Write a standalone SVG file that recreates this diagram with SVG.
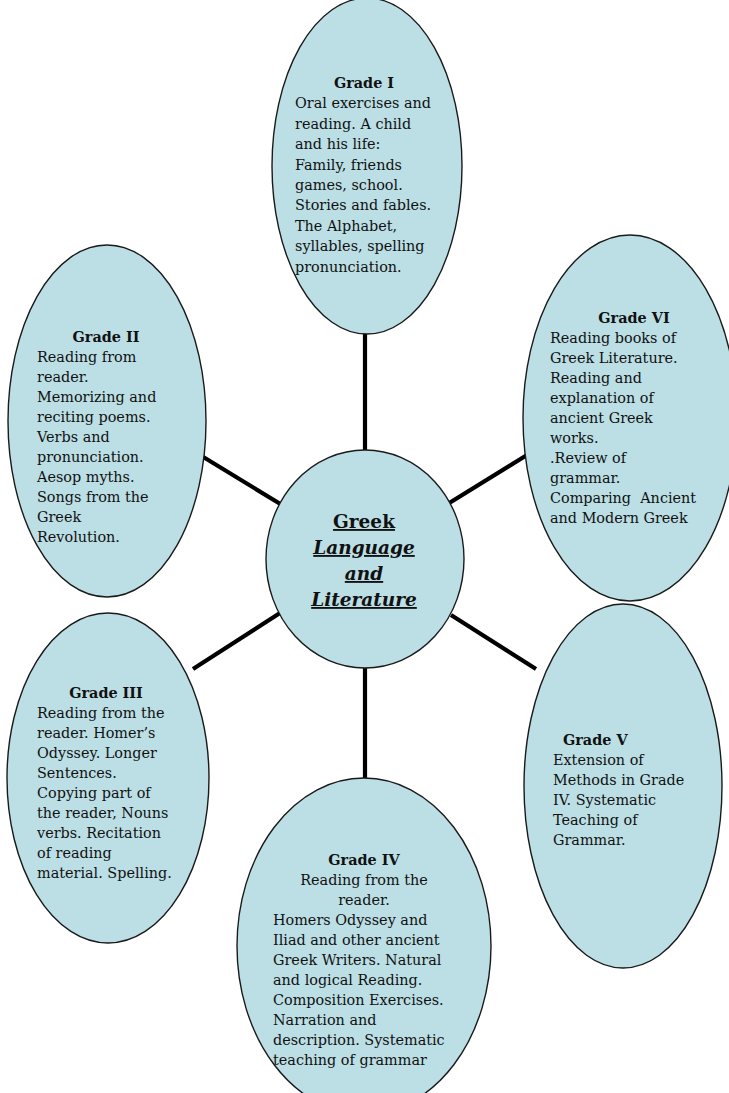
<svg xmlns="http://www.w3.org/2000/svg" width="729" height="1093" viewBox="0 0 729 1093">
<style>
.bg{fill:#ffffff}
.node{fill:#bcdfe5;stroke:#1a1a1a;stroke-width:1.4}
.conn{stroke:#000;stroke-width:4.2;stroke-linecap:butt;fill:none}
.t{font-family:"DejaVu Serif","Liberation Serif",serif;font-size:14.4px;fill:#111}
.b{font-weight:bold}
.c{text-anchor:middle}
.hub{font-family:"DejaVu Serif","Liberation Serif",serif;font-size:18.5px;font-weight:bold;fill:#111;text-anchor:middle;text-decoration:underline}
.i{font-style:italic}
</style>
<rect class="bg" x="0" y="0" width="729" height="1093"/>
<g id="connectors">
<line class="conn" x1="365" y1="330" x2="365" y2="456"/>
<line class="conn" x1="365" y1="662" x2="365" y2="782"/>
<line class="conn" x1="200" y1="455" x2="282" y2="505"/>
<line class="conn" x1="446" y1="505" x2="527" y2="455"/>
<line class="conn" x1="193" y1="669" x2="280" y2="613"/>
<line class="conn" x1="451" y1="615" x2="536" y2="669"/>
</g>
<g id="grade1">
<ellipse class="node" cx="367" cy="166" rx="95" ry="168"/>
<text class="t b c" x="364" y="88">Grade I</text>
<text class="t" x="295" y="108.4">Oral exercises and<tspan x="295" dy="20.4">reading. A child</tspan><tspan x="295" dy="20.4">and his life:</tspan><tspan x="295" dy="20.4">Family, friends</tspan><tspan x="295" dy="20.4">games, school.</tspan><tspan x="295" dy="20.4">Stories and fables.</tspan><tspan x="295" dy="20.4">The Alphabet,</tspan><tspan x="295" dy="20.4">syllables, spelling</tspan><tspan x="295" dy="20.4">pronunciation.</tspan></text>
</g>
<g id="grade2">
<ellipse class="node" cx="107" cy="421" rx="99" ry="176"/>
<text class="t b c" x="106" y="342">Grade II</text>
<text class="t" x="37" y="362">Reading from<tspan x="37" dy="20">reader.</tspan><tspan x="37" dy="20">Memorizing and</tspan><tspan x="37" dy="20">reciting poems.</tspan><tspan x="37" dy="20">Verbs and</tspan><tspan x="37" dy="20">pronunciation.</tspan><tspan x="37" dy="20">Aesop myths.</tspan><tspan x="37" dy="20">Songs from the</tspan><tspan x="37" dy="20">Greek</tspan><tspan x="37" dy="20">Revolution.</tspan></text>
</g>
<g id="grade6">
<ellipse class="node" cx="630" cy="418" rx="107" ry="183"/>
<text class="t b c" x="634" y="323">Grade VI</text>
<text class="t" x="550" y="343" xml:space="preserve">Reading books of<tspan x="550" dy="20">Greek Literature.</tspan><tspan x="550" dy="20">Reading and</tspan><tspan x="550" dy="20">explanation of</tspan><tspan x="550" dy="20">ancient Greek</tspan><tspan x="550" dy="20">works.</tspan><tspan x="550" dy="20">.Review of</tspan><tspan x="550" dy="20">grammar.</tspan><tspan x="550" dy="20">Comparing  Ancient</tspan><tspan x="550" dy="20">and Modern Greek</tspan></text>
</g>
<g id="hub">
<ellipse class="node" cx="365" cy="559" rx="99" ry="109"/>
<text class="hub" x="364" y="528">Greek</text>
<text class="hub i" x="364" y="554">Language</text>
<text class="hub i" x="364" y="580">and</text>
<text class="hub i" x="364" y="606">Literature</text>
</g>
<g id="grade3">
<ellipse class="node" cx="108" cy="778" rx="101" ry="165"/>
<text class="t b c" x="106" y="698">Grade III</text>
<text class="t" x="37" y="718">Reading from the<tspan x="37" dy="20">reader. Homer’s</tspan><tspan x="37" dy="20">Odyssey. Longer</tspan><tspan x="37" dy="20">Sentences.</tspan><tspan x="37" dy="20">Copying part of</tspan><tspan x="37" dy="20">the reader, Nouns</tspan><tspan x="37" dy="20">verbs. Recitation</tspan><tspan x="37" dy="20">of reading</tspan><tspan x="37" dy="20">material. Spelling.</tspan></text>
</g>
<g id="grade5">
<ellipse class="node" cx="623" cy="786" rx="99" ry="182"/>
<text class="t b" x="563" y="745">Grade V</text>
<text class="t" x="553" y="765">Extension of<tspan x="553" dy="20">Methods in Grade</tspan><tspan x="553" dy="20">IV. Systematic</tspan><tspan x="553" dy="20">Teaching of</tspan><tspan x="553" dy="20">Grammar.</tspan></text>
</g>
<g id="grade4">
<ellipse class="node" cx="364" cy="946" rx="127" ry="168"/>
<text class="t b c" x="364" y="865">Grade IV</text>
<text class="t c" x="364" y="885">Reading from the</text>
<text class="t c" x="364" y="905">reader.</text>
<text class="t" x="273" y="925">Homers Odyssey and<tspan x="273" dy="20">Iliad and other ancient</tspan><tspan x="273" dy="20">Greek Writers. Natural</tspan><tspan x="273" dy="20">and logical Reading.</tspan><tspan x="273" dy="20">Composition Exercises.</tspan><tspan x="273" dy="20">Narration and</tspan><tspan x="273" dy="20">description. Systematic</tspan><tspan x="273" dy="20">teaching of grammar</tspan></text>
</g>
</svg>
